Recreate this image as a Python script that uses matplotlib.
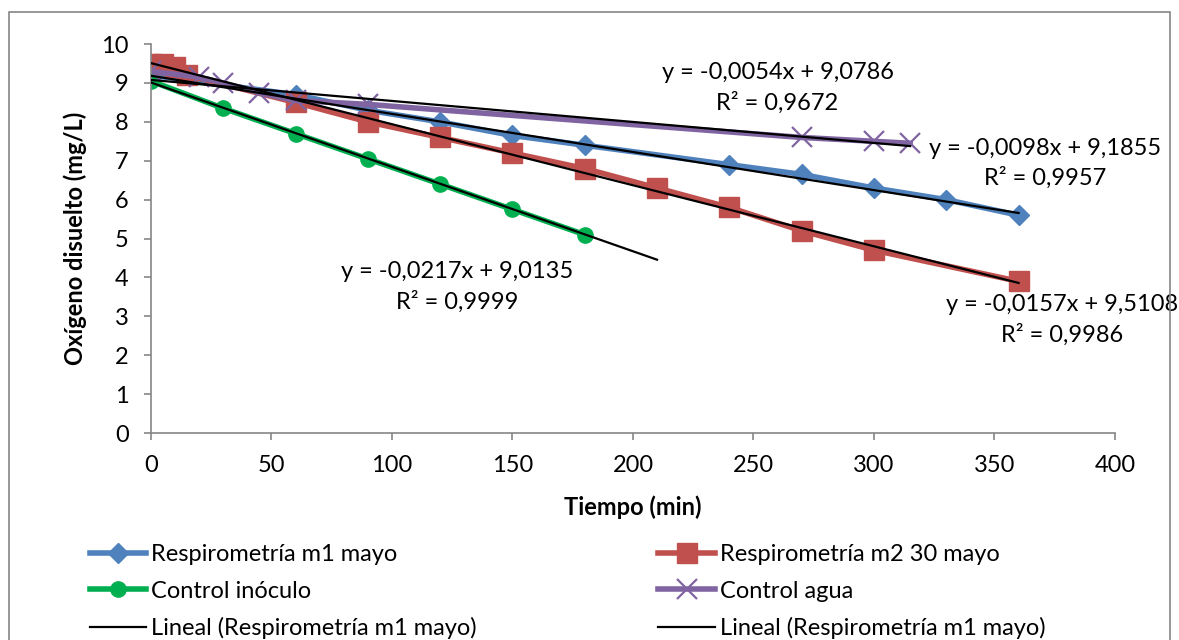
import numpy as np
import matplotlib.pyplot as plt
from matplotlib.patches import Rectangle

plt.rcParams['font.family'] = ['Lato', 'DejaVu Sans']

# data
t_m1 = [0, 60, 90, 120, 150, 180, 240, 270, 300, 330, 360]
od_m1 = [9.2, 8.7, 8.3, 8.0, 7.65, 7.4, 6.9, 6.65, 6.3, 6.0, 5.6]

t_m2 = [0, 5, 10, 15, 60, 90, 120, 150, 180, 210, 240, 270, 300, 360]
od_m2 = [9.5, 9.5, 9.4, 9.2, 8.5, 8.0, 7.6, 7.2, 6.8, 6.3, 5.8, 5.2, 4.7, 3.9]

t_ino = [0, 30, 60, 90, 120, 150, 180]
od_ino = [9.05, 8.35, 7.7, 7.05, 6.4, 5.75, 5.1]

t_agua = [0, 20, 30, 45, 60, 90, 270, 300, 315]
od_agua = [9.3, 9.15, 9.0, 8.75, 8.55, 8.45, 7.6, 7.5, 7.45]

# trendline coefficients (slope, intercept) as shown on the chart, and x range
trend_m1 = (-0.0098, 9.1855, 0, 360)
trend_m2 = (-0.0157, 9.5108, 0, 360)
trend_ino = (-0.0217, 9.0135, 0, 210)
trend_agua = (-0.0054, 9.0786, 0, 315)

labels = ["Respirometría m1 mayo", "Respirometría m2 30 mayo", "Control inóculo",
          "Control agua", "Lineal (Respirometría m1 mayo)", "Lineal (Respirometría m1 mayo)"]

fig = plt.figure(figsize=(11.79, 6.4), dpi=100)
ax = fig.add_axes([0.128, 0.3234, 0.8177, 0.6077])

l1, = ax.plot(t_m1, od_m1, color='#4F81BD', lw=4, marker='D', ms=10, label=labels[0])
l2, = ax.plot(t_m2, od_m2, color='#C0504D', lw=4, marker='s', ms=14, label=labels[1])
l3, = ax.plot(t_ino, od_ino, color='#00B050', lw=4, marker='o', ms=11, label=labels[2])
l4, = ax.plot(t_agua, od_agua, color='#8064A2', lw=4, marker='x', ms=14, mew=1.6, label=labels[3])

trend_lines = []
for m, b, x0, x1 in [trend_m1, trend_m2, trend_ino, trend_agua]:
    xs = np.array([x0, x1])
    tl, = ax.plot(xs, m * xs + b, color='black', lw=1.6, zorder=5)
    trend_lines.append(tl)

fs = 17
ax.text(260, 8.88, "y = -0,0054x + 9,0786\nR² = 0,9672", ha='center', va='center',
        fontsize=fs, linespacing=1.46)
ax.text(371, 6.93, "y = -0,0098x + 9,1855\nR² = 0,9957", ha='center', va='center',
        fontsize=fs, linespacing=1.46)
ax.text(127, 3.75, "y = -0,0217x + 9,0135\nR² = 0,9999", ha='center', va='center',
        fontsize=fs, linespacing=1.46)
ax.text(378, 2.9, "y = -0,0157x + 9,5108\nR² = 0,9986", ha='center', va='center',
        fontsize=fs, linespacing=1.46)

ax.set_xlim(0, 400)
ax.set_ylim(0, 10)
ax.set_xticks(np.arange(0, 401, 50))
ax.set_yticks(np.arange(0, 11, 1))
for s in ['top', 'right']:
    ax.spines[s].set_visible(False)
for s in ['left', 'bottom']:
    ax.spines[s].set_color('#868686')
    ax.spines[s].set_linewidth(1.2)
ax.tick_params(direction='out', length=5, width=1.2, color='#868686', labelsize=fs, pad=11)
ax.set_xlabel("Tiempo (min)", fontsize=fs, fontweight='bold', labelpad=14)
ax.set_ylabel("Oxígeno disuelto (mg/L)", fontsize=fs, fontweight='bold', labelpad=10)

handles = [l1, l3, trend_lines[0], l2, l4, trend_lines[1]]
leg_labels = [labels[0], labels[2], labels[4], labels[1], labels[3], labels[5]]
fig.legend(handles, leg_labels, ncol=2, loc='upper left', bbox_to_anchor=(0.076, 0.15),
           frameon=False, fontsize=fs, handlelength=2.4, handletextpad=0.2,
           labelspacing=0.66, columnspacing=7.7, borderpad=0, borderaxespad=0)

fig.patches.append(Rectangle((9 / 1179, -0.1), 1161 / 1179, 1.1 - 12 / 640,
                             transform=fig.transFigure, fill=False, edgecolor='#868686', lw=1.2))

fig.savefig("out.png", dpi=100)
